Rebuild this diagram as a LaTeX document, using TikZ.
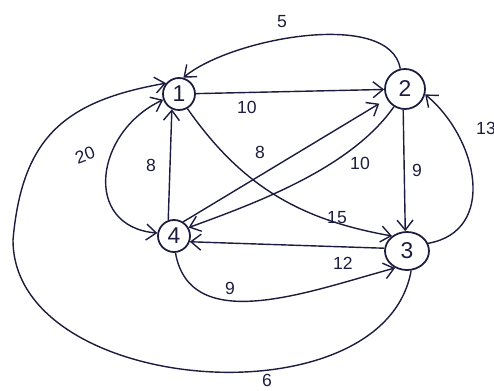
\documentclass[tikz,border=0pt]{standalone}
\usepackage{fontspec}
\setmainfont{Liberation Sans}
\usepackage{tikz}
\usetikzlibrary{arrows.meta, shapes.geometric}
\definecolor{InkNavy}{RGB}{28, 28, 64}

\begin{document}
\begin{tikzpicture}[x=0.02cm, y=0.02cm,
    >={Straight Barb[length=2mm, width=3.2mm]},
    vertex/.style={draw=InkNavy, line width=1pt, circle, inner sep=0pt, minimum size=0.64cm, text=InkNavy, font=\fontsize{13}{15}\selectfont},
    edge/.style={draw=InkNavy, line width=0.8pt, ->},
    weight/.style={text=InkNavy, inner sep=1pt, font=\fontsize{10}{12}\selectfont}]
    \useasboundingbox (0,0) rectangle (494,390);

    % Vertices
    \node[vertex] (n1) at (179,296) {1};
    \node[vertex, minimum size=0.8cm] (n2) at (405,301) {2};
    \node[vertex, ellipse, minimum width=0.88cm, minimum height=0.76cm] (n3) at (407,139) {3};
    \node[vertex] (n4) at (174,154) {4};

    % Edges
    \draw[edge] (n2.103) to[out=100, in=40, looseness=0.72] (n1.75);
    \draw[edge] (n1) -- (n2);
    \draw[edge, <->] (n1.200) to[out=205, in=175, looseness=1.45] (n4.170);
    \draw[edge] (n4.110) -- (n1.245);
    \draw[edge] (n1.-60) to[out=-55, in=170] (n3.135);
    \draw[edge, shorten >=5pt] (n4.57) -- (n2.209);
    \draw[edge] (n2.238) to[out=235, in=20, looseness=0.8] (n4.30);
    \draw[edge] (n2.265) -- (n3.95);
    \draw[edge] (n3.20) to[out=10, in=-40, looseness=1.2] (n2.-15);
    \draw[edge] (n3.173) -- (n4.-20);
    \draw[edge] (n4.-85) to[out=-80, in=195] (n3.235);
    \coordinate (bend6) at (13,150);
    \draw[edge] (n3.-78) to[out=-100, in=-90] (bend6) to[out=85, in=190, looseness=1.2] (n1.140);

    % Weights
    \foreach \name/\x/\y/\w in {w21/282/368/5, w12/247/283/10, w41/151/225/8,
        w42/260/238/8, w24/360/227/10, w23/417/220/9, w32/486/262/13,
        w13/337/172/15, w34/343/127/12, w43/230/102/9, w31/267/10/6} {
      \node[weight] (\name) at (\x,\y) {\w};
    }
    \node[weight, rotate=20] (w14) at (85,235) {20};
\end{tikzpicture}
\end{document}
